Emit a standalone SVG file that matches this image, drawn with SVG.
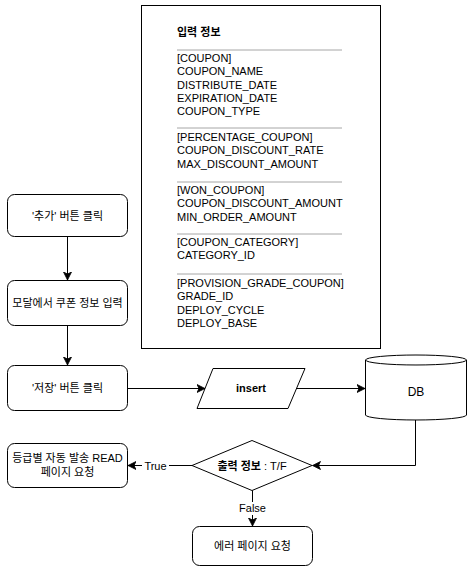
<svg xmlns="http://www.w3.org/2000/svg" width="472" height="572" viewBox="0 0 472 572">
<defs>
<marker id="arr" markerUnits="userSpaceOnUse" markerWidth="10" markerHeight="10" refX="8" refY="5" orient="auto">
<path d="M0,1 L8,5 L0,9 L2,5 Z" fill="#000" stroke="#000" stroke-width="0.8"/>
</marker>
</defs>
<style>
text{font-family:"Liberation Sans","Noto Sans CJK KR",Arial,sans-serif;font-size:11px;fill:#000}
.c{text-anchor:middle}
.b{font-weight:bold}
.box{fill:#fff;stroke:#000;stroke-width:1}
.sep{stroke:#a6a6a6;stroke-width:1}
.edge{fill:none;stroke:#000;stroke-width:1;marker-end:url(#arr)}
.lbl{fill:#fff}
</style>
<rect width="472" height="572" fill="#fff"/>

<g id="input-info">
<rect class="box" x="141.5" y="5.5" width="239" height="343"/>
<text class="b" x="177" y="36">입력 정보</text>
<line class="sep" x1="177" y1="50" x2="342" y2="50"/>
<text x="177" y="62">[COUPON]</text>
<text x="177" y="75.3">COUPON_NAME</text>
<text x="177" y="88.6">DISTRIBUTE_DATE</text>
<text x="177" y="101.9">EXPIRATION_DATE</text>
<text x="177" y="115.2">COUPON_TYPE</text>
<line class="sep" x1="177" y1="128" x2="342" y2="128"/>
<text x="177" y="141">[PERCENTAGE_COUPON]</text>
<text x="177" y="154.3">COUPON_DISCOUNT_RATE</text>
<text x="177" y="167.6">MAX_DISCOUNT_AMOUNT</text>
<line class="sep" x1="177" y1="182" x2="342" y2="182"/>
<text x="177" y="194">[WON_COUPON]</text>
<text x="177" y="207.3">COUPON_DISCOUNT_AMOUNT</text>
<text x="177" y="220.6">MIN_ORDER_AMOUNT</text>
<line class="sep" x1="177" y1="234" x2="342" y2="234"/>
<text x="177" y="246">[COUPON_CATEGORY]</text>
<text x="177" y="259.3">CATEGORY_ID</text>
<line class="sep" x1="177" y1="274" x2="342" y2="274"/>
<text x="177" y="287">[PROVISION_GRADE_COUPON]</text>
<text x="177" y="300.3">GRADE_ID</text>
<text x="177" y="313.6">DEPLOY_CYCLE</text>
<text x="177" y="326.9">DEPLOY_BASE</text>
</g>

<g id="add-click">
<rect class="box" x="7.5" y="194.5" width="120" height="42" rx="7"/>
<text class="c" x="67.5" y="219.5">'추가' 버튼 클릭</text>
</g>

<g id="modal-input">
<rect class="box" x="7.5" y="280.5" width="120" height="45" rx="7"/>
<text class="c" x="67.5" y="306.5">모달에서 쿠폰 정보 입력</text>
</g>

<g id="save-click">
<rect class="box" x="7.5" y="365.5" width="120" height="45" rx="7"/>
<text class="c" x="67.5" y="391.5">'저장' 버튼 클릭</text>
</g>

<g id="insert">
<polygon class="box" points="213,368.5 305,368.5 288,408.5 197,408.5"/>
<text class="c b" x="251" y="392">insert</text>
</g>

<g id="db">
<path class="box" d="M365.5,360 A50.5,5 0 0 1 466.5,360 L466.5,415 A50.5,5 0 0 1 365.5,415 Z"/>
<path fill="none" stroke="#000" stroke-width="1" d="M365.5,360 A50.5,5 0 0 0 466.5,360"/>
<text class="c" x="416" y="396" style="font-size:12px">DB</text>
</g>

<g id="decision">
<polygon class="box" points="252,440.5 312,465.5 252,490.5 192,465.5"/>
<text class="c" x="252" y="469.5"><tspan class="b">출력 정보</tspan> : T/F</text>
</g>

<g id="grade-read">
<rect class="box" x="7.5" y="443.5" width="120" height="44" rx="7"/>
<text class="c" x="67.5" y="462">등급별 자동 발송 READ</text>
<text class="c" x="67.5" y="476">페이지 요청</text>
</g>

<g id="error-page">
<rect class="box" x="192.5" y="526.5" width="120" height="39" rx="7"/>
<text class="c" x="252.5" y="550">에러 페이지 요청</text>
</g>

<g id="connectors">
<path class="edge" d="M67.5,236.5 L67.5,280"/>
<path class="edge" d="M67.5,325.5 L67.5,365"/>
<path class="edge" d="M127.5,388.5 L205,388.5"/>
<path class="edge" d="M296.5,388.5 L365,388.5"/>
<path class="edge" d="M415.5,420 L415.5,465.5 L312.5,465.5"/>
<path class="edge" d="M192,465.5 L128,465.5"/>
<path class="edge" d="M252.5,490.5 L252.5,526"/>
<rect class="lbl" x="142" y="459" width="27" height="13"/>
<text class="c" x="155.5" y="469.5">True</text>
<rect class="lbl" x="237" y="502" width="31" height="13"/>
<text class="c" x="252.5" y="512">False</text>
</g>
</svg>
